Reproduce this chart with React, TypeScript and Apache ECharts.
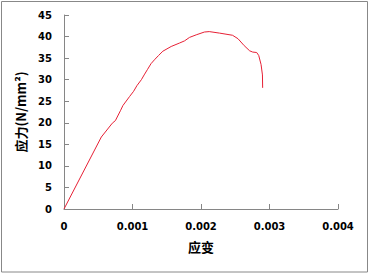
import React, { useEffect, useRef } from "react";
import * as echarts from "echarts";

const strain = [0, 0.000545, 0.000705, 0.00075, 0.000827, 0.00086, 0.000958, 0.001016, 0.001064, 0.00113, 0.00117, 0.00122, 0.00127, 0.00132, 0.00138, 0.001443, 0.001565, 0.001687, 0.00176, 0.001832, 0.00193, 0.00205, 0.00212, 0.00227, 0.00246, 0.00254, 0.00263, 0.00271, 0.002755, 0.002813, 0.002843, 0.002877, 0.002897, 0.0029];
const stress = [0, 16.7, 19.9, 20.5, 22.9, 24.0, 26.1, 27.3, 28.6, 30.0, 31.1, 32.4, 33.7, 34.6, 35.6, 36.6, 37.7, 38.5, 39.0, 39.8, 40.4, 41.05, 41.15, 40.8, 40.3, 39.5, 37.9, 36.7, 36.4, 36.3, 35.6, 33.5, 31.1, 28.1];
const xName = "应变";
const yName = "应力(N/mm²)";

export default function App() {
  const ref = useRef<HTMLDivElement>(null);
  useEffect(() => {
    if (!ref.current) return;
    const chart = echarts.init(ref.current, null, { renderer: "svg" });
    const axisColor = "#868686";
    const labelStyle = {
      fontFamily: "DejaVu Sans",
      fontWeight: "bold" as const,
      fontSize: 10,
      color: "#000",
    };
    const nameStyle = {
      fontFamily: "Noto Sans CJK SC",
      fontWeight: "bold" as const,
      fontSize: 13,
      color: "#000",
    };
    chart.setOption({
      animation: false,
      backgroundColor: "#fff",
      graphic: [
        {
          type: "rect",
          shape: { x: 1.5, y: 1.5, width: 366, height: 270.5 },
          style: { fill: "none", stroke: "#888", lineWidth: 1 },
          silent: true,
        },
      ],
      grid: { left: 64, right: 32, top: 15, bottom: 65 },
      xAxis: {
        type: "value",
        min: 0,
        max: 0.004,
        interval: 0.001,
        name: xName,
        nameLocation: "middle",
        nameGap: 31,
        nameTextStyle: nameStyle,
        axisLine: { show: true, lineStyle: { color: axisColor, width: 1 } },
        axisTick: { show: true, inside: true, length: 5, lineStyle: { color: axisColor } },
        axisLabel: {
          ...labelStyle,
          margin: 12,
          formatter: (v: number) => (v === 0 ? "0" : v.toFixed(3)),
        },
        splitLine: { show: false },
      },
      yAxis: {
        type: "value",
        min: 0,
        max: 45,
        interval: 5,
        name: yName,
        nameLocation: "middle",
        nameGap: 31,
        nameRotate: 90,
        nameTextStyle: nameStyle,
        axisLine: { show: true, lineStyle: { color: axisColor, width: 1 } },
        axisTick: { show: true, inside: true, length: 5, lineStyle: { color: axisColor } },
        axisLabel: { ...labelStyle, margin: 12 },
        splitLine: { show: false },
      },
      series: [
        {
          type: "line",
          data: strain.map((s, i) => [s, stress[i]]),
          showSymbol: false,
          symbol: "none",
          lineStyle: { color: "#e62035", width: 1 },
          itemStyle: { color: "#e62035" },
        },
      ],
    });
    return () => chart.dispose();
  }, []);
  return (
    <div
      ref={ref}
      style={{ position: "fixed", left: 0, top: 0, width: 370, height: 274 }}
    />
  );
}
